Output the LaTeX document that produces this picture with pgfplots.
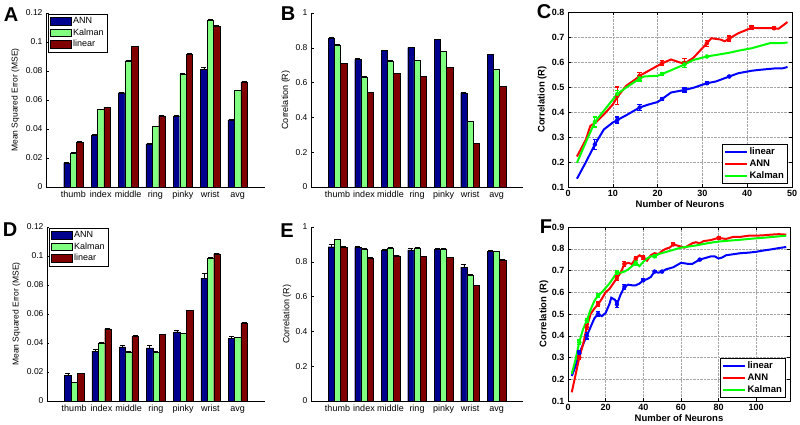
\documentclass[border=0pt]{standalone}
\usepackage{fontspec}
\setmainfont{Liberation Sans}
\usepackage{pgfplots}
\usepackage{pgfplotstable}
\pgfplotsset{compat=1.18}

\definecolor{annc}{rgb}{0,0,0.5625}
\definecolor{kalc}{rgb}{0.5,1,0.5}
\definecolor{linc}{rgb}{0.5,0,0}

% x ann anne kal kale lin line
\pgfplotstableread{
x ann anne kal kale lin line
1 0.0167 0.0006 0.0236 0.0003 0.0310 0.0003
2 0.0355 0.0012 0.0534 0.0003 0.0550 0.0003
3 0.0650 0.0005 0.0871 0.0003 0.0970 0.0003
4 0.0298 0.0005 0.0417 0.0003 0.0490 0.0003
5 0.0488 0.0005 0.0780 0.0003 0.0917 0.0003
6 0.0810 0.0015 0.1153 0.0003 0.1110 0.0003
7 0.0463 0.0004 0.0665 0.0003 0.0725 0.0003
}\dataA
\pgfplotstableread{
x ann anne kal kale lin line
1 0.853 0.008 0.816 0.002 0.709 0.002
2 0.734 0.006 0.633 0.002 0.545 0.002
3 0.784 0.004 0.725 0.002 0.654 0.002
4 0.801 0.004 0.728 0.002 0.637 0.002
5 0.847 0.004 0.778 0.002 0.688 0.002
6 0.541 0.006 0.377 0.002 0.252 0.002
7 0.761 0.004 0.677 0.002 0.579 0.002
}\dataB
\pgfplotstableread{
x ann anne kal kale lin line
1 0.0177 0.0012 0.0128 0.0003 0.0190 0.0003
2 0.0344 0.0015 0.0401 0.0003 0.0498 0.0003
3 0.0374 0.0012 0.0340 0.0003 0.0447 0.0003
4 0.0367 0.0018 0.0337 0.0003 0.0459 0.0003
5 0.0477 0.0010 0.0465 0.0003 0.0626 0.0003
6 0.0848 0.0030 0.0986 0.0003 0.1016 0.0003
7 0.0431 0.0015 0.0440 0.0003 0.0539 0.0003
}\dataD
\pgfplotstableread{
x ann anne kal kale lin line
1 0.887 0.012 0.929 0.002 0.885 0.002
2 0.883 0.008 0.874 0.002 0.822 0.002
3 0.867 0.007 0.881 0.002 0.835 0.002
4 0.868 0.010 0.880 0.002 0.832 0.002
5 0.873 0.004 0.875 0.002 0.825 0.002
6 0.770 0.014 0.725 0.002 0.663 0.002
7 0.859 0.005 0.859 0.002 0.811 0.002
}\dataE

\pgfplotsset{
  barax/.style={
    scale only axis, xmin=0, xmax=8, ymin=0,
    axis x line*=bottom, axis y line*=left,
    tick align=inside, major tick length=2.5pt,
    xtick={1,2,3,4,5,6,7},
    xticklabels={thumb,index,middle,ring,pinky,wrist,avg},
    xtick style={draw=none},
    ytick style={black, line width=0.4pt},
    x tick label style={font=\fontsize{9}{10}\selectfont, text height=1.6ex, text depth=0.3ex, inner ysep=1.5pt},
    y tick label style={font=\fontsize{8.5}{9}\selectfont, /pgf/number format/fixed, /pgf/number format/precision=2},
    /pgf/number format/assume math mode=true,
    scaled y ticks=false,
    axis line style={black, line width=0.4pt},
    legend cell align=left,
    legend style={at={(0.01,0.995)}, anchor=north west, draw=black, line width=0.4pt,
      font=\fontsize{9}{10}\selectfont, inner sep=1.5pt, row sep=-0.5pt},
  },
  lineax/.style={
    scale only axis, grid=major,
    grid style={densely dotted, gray!70, line width=0.35pt},
    tick align=inside, major tick length=3pt,
    axis line style={black, line width=0.4pt},
    every tick/.style={black, line width=0.4pt},
    tick label style={font=\bfseries\fontsize{9}{10}\selectfont},
    /pgf/number format/assume math mode=true,
    yticklabel style={/pgf/number format/fixed, /pgf/number format/precision=1, /pgf/number format/fixed zerofill},
    label style={font=\bfseries\fontsize{9.5}{10}\selectfont},
    legend cell align=left,
    legend style={at={(0.98,0.02)}, anchor=south east, draw=black, line width=0.4pt,
      font=\bfseries\fontsize{9.5}{10}\selectfont, inner sep=1.5pt, row sep=-0.5pt},
    legend image code/.code={\draw[#1] (0pt,0pt) -- (22pt,0pt);},
  },
}

\newcommand{\threebars}[1]{%
  \addplot[ybar, bar width=0.235, bar shift=0pt, fill=annc, draw=black, line width=0.3pt, forget plot,
    error bars/.cd, y dir=plus, y explicit, error bar style={black, line width=0.5pt},
    error mark options={rotate=90, black, mark size=2.5pt, line width=0.5pt}]
    table[x expr=\thisrow{x}-0.235, y=ann, y error=anne] {#1};
  \addplot[ybar, bar width=0.235, bar shift=0pt, fill=kalc, draw=black, line width=0.3pt, forget plot,
    error bars/.cd, y dir=plus, y explicit, error bar style={black, line width=0.5pt},
    error mark options={rotate=90, black, mark size=2.5pt, line width=0.5pt}]
    table[x expr=\thisrow{x}, y=kal, y error=kale] {#1};
  \addplot[ybar, bar width=0.235, bar shift=0pt, fill=linc, draw=black, line width=0.3pt, forget plot,
    error bars/.cd, y dir=plus, y explicit, error bar style={black, line width=0.5pt},
    error mark options={rotate=90, black, mark size=2.5pt, line width=0.5pt}]
    table[x expr=\thisrow{x}+0.235, y=lin, y error=line] {#1};
}
\newcommand{\barlegend}{%
  \addlegendimage{legend image code/.code={\draw[fill=annc, draw=black, line width=0.3pt] (0pt,-3.5pt) rectangle (21pt,4pt);}}
  \addlegendentry{ANN}
  \addlegendimage{legend image code/.code={\draw[fill=kalc, draw=black, line width=0.3pt] (0pt,-3.5pt) rectangle (21pt,4pt);}}
  \addlegendentry{Kalman}
  \addlegendimage{legend image code/.code={\draw[fill=linc, draw=black, line width=0.3pt] (0pt,-3.5pt) rectangle (21pt,4pt);}}
  \addlegendentry{linear}
}

\begin{document}
\begin{tikzpicture}
\useasboundingbox (0pt,0pt) rectangle (800pt,425pt);

% ---------------- A ----------------
\begin{axis}[barax, at={(46pt,238pt)}, anchor=south west, width=219pt, height=174pt,
  ymax=0.12, ytick={0,0.02,0.04,0.06,0.08,0.1,0.12},
  ylabel={Mean Squared Error (MSE)},
  ylabel style={at={(axis description cs:-0.14,0.5)}, anchor=center, font=\fontsize{8.5}{9}\selectfont}]
\barlegend
\threebars{\dataA}
\end{axis}

% ---------------- B ----------------
\begin{axis}[barax, at={(311pt,238pt)}, anchor=south west, width=212pt, height=174pt,
  ymax=1, ytick={0,0.2,0.4,0.6,0.8,1},
  y tick label style={/pgf/number format/precision=1},
  ylabel={Correlation (R)},
  ylabel style={at={(axis description cs:-0.119,0.5)}, anchor=center, font=\fontsize{9}{9}\selectfont}]
\threebars{\dataB}
\end{axis}

% ---------------- C ----------------
\begin{axis}[lineax, at={(568pt,238pt)}, anchor=south west, width=224pt, height=175pt,
  xmin=0, xmax=50, ymin=0.1, ymax=0.8,
  xtick={0,10,20,30,40,50}, ytick={0.1,0.2,0.3,0.4,0.5,0.6,0.7,0.8},
  xlabel={Number of Neurons}, ylabel={Correlation (R)},
  xlabel style={at={(axis description cs:0.5,-0.095)}, anchor=center},
  ylabel style={at={(axis description cs:-0.115,0.5)}, anchor=center}]
\addplot[blue, line width=2pt] coordinates {
(2,0.133)(4,0.20)(6,0.27)(8,0.330)(10,0.358)(11,0.368)(13,0.387)(16,0.418)(18,0.43)(20,0.44)
(21,0.452)(23,0.478)(26,0.488)(28,0.497)(31,0.515)(33,0.522)(36,0.542)(38,0.555)(41,0.565)
(43,0.569)(46,0.574)(48,0.575)(49,0.580)};
\addlegendentry{linear}
\addplot[red, line width=2pt] coordinates {
(2,0.222)(4,0.29)(5,0.345)(6,0.355)(8,0.39)(10,0.43)(11,0.46)(13,0.505)(15,0.53)(16,0.545)
(18,0.565)(21,0.595)(23,0.61)(25,0.598)(26,0.594)(28,0.617)(31,0.675)(32,0.695)(34,0.69)
(35,0.683)(36,0.694)(38,0.715)(41,0.737)(43,0.735)(46,0.735)(47,0.733)(49,0.760)};
\addlegendentry{ANN}
\addplot[green, line width=2pt] coordinates {
(2,0.197)(4,0.28)(6,0.36)(8,0.405)(11,0.472)(13,0.498)(16,0.534)(17,0.542)(20,0.545)(21,0.552)
(23,0.567)(26,0.590)(28,0.608)(31,0.622)(33,0.628)(36,0.637)(38,0.645)(41,0.655)(43,0.665)
(45,0.675)(48,0.676)(49,0.678)};
\addlegendentry{Kalman}
\addplot[blue, only marks, mark=none, forget plot, error bars/.cd, y dir=both, y explicit,
  error bar style={blue, line width=1.2pt}, error mark options={rotate=90, blue, mark size=2.2pt, line width=1.2pt}]
  coordinates {(6,0.27)+-(0,0.02) (11,0.368)+-(0,0.012) (16,0.418)+-(0,0.012) (21,0.452)+-(0,0.007)
  (26,0.488)+-(0,0.008) (31,0.515)+-(0,0.005) (36,0.542)+-(0,0.005)};
\addplot[red, only marks, mark=none, forget plot, error bars/.cd, y dir=both, y explicit,
  error bar style={red, line width=1.2pt}, error mark options={rotate=90, red, mark size=2.2pt, line width=1.2pt}]
  coordinates {(11,0.465)+-(0,0.035) (16,0.545)+-(0,0.012) (21,0.595)+-(0,0.01) (26,0.597)+-(0,0.018)
  (31,0.675)+-(0,0.012) (36,0.694)+-(0,0.01) (41,0.737)+-(0,0.007) (46,0.735)+-(0,0.005)};
\addplot[green, only marks, mark=none, forget plot, error bars/.cd, y dir=both, y explicit,
  error bar style={green, line width=1.2pt}, error mark options={rotate=90, green, mark size=2.2pt, line width=1.2pt}]
  coordinates {(6,0.36)+-(0,0.02) (11,0.472)+-(0,0.015) (16,0.534)+-(0,0.01) (21,0.552)+-(0,0.006)
  (26,0.590)+-(0,0.012) (31,0.622)+-(0,0.005)};
\end{axis}

% ---------------- D ----------------
\begin{axis}[barax, at={(47pt,24pt)}, anchor=south west, width=218pt, height=174pt,
  ymax=0.12, ytick={0,0.02,0.04,0.06,0.08,0.1,0.12},
  ylabel={Mean Squared Error (MSE)},
  ylabel style={at={(axis description cs:-0.14,0.5)}, anchor=center, font=\fontsize{8.5}{9}\selectfont}]
\barlegend
\threebars{\dataD}
\end{axis}

% ---------------- E ----------------
\begin{axis}[barax, at={(311pt,24pt)}, anchor=south west, width=212pt, height=174pt,
  ymax=1, ytick={0,0.2,0.4,0.6,0.8,1},
  y tick label style={/pgf/number format/precision=1},
  ylabel={Correlation (R)},
  ylabel style={at={(axis description cs:-0.113,0.5)}, anchor=center, font=\fontsize{9}{9}\selectfont}]
\threebars{\dataE}
\end{axis}

% ---------------- F ----------------
\begin{axis}[lineax, at={(568pt,24pt)}, anchor=south west, width=222pt, height=174pt,
  xmin=0, xmax=118, ymin=0.1, ymax=0.9,
  xtick={0,20,40,60,80,100}, ytick={0.1,0.2,0.3,0.4,0.5,0.6,0.7,0.8,0.9},
  xlabel={Number of Neurons}, ylabel={Correlation (R)},
  xlabel style={at={(axis description cs:0.5,-0.1)}, anchor=center},
  ylabel style={at={(axis description cs:-0.108,0.5)}, anchor=center}]
\addplot[blue, line width=2pt] coordinates {
(2,0.215)(4,0.26)(6,0.32)(8,0.36)(10,0.40)(12,0.44)(14,0.48)(16,0.50)(18,0.49)(20,0.505)
(22,0.545)(23,0.575)(25,0.565)(26,0.545)(28,0.59)(30,0.625)(32,0.635)(34,0.632)(36,0.632)
(38,0.64)(40,0.655)(42,0.66)(44,0.67)(46,0.695)(48,0.69)(50,0.695)(52,0.705)(54,0.71)
(56,0.715)(58,0.725)(60,0.735)(62,0.733)(64,0.73)(66,0.73)(68,0.74)(70,0.75)(72,0.755)
(74,0.76)(76,0.765)(78,0.765)(80,0.755)(82,0.76)(84,0.77)(88,0.775)(92,0.78)(96,0.782)
(100,0.786)(104,0.792)(108,0.797)(112,0.803)(116,0.808)};
\addlegendentry{linear}
\addplot[red, line width=2pt] coordinates {
(2,0.14)(4,0.22)(6,0.30)(8,0.36)(10,0.44)(12,0.50)(14,0.525)(16,0.545)(18,0.57)(20,0.60)
(22,0.615)(24,0.64)(26,0.665)(28,0.69)(30,0.73)(32,0.735)(34,0.73)(36,0.755)(38,0.77)
(40,0.76)(42,0.745)(44,0.77)(46,0.78)(48,0.775)(50,0.79)(52,0.80)(54,0.805)(56,0.82)
(58,0.815)(60,0.81)(62,0.805)(64,0.815)(66,0.825)(68,0.83)(70,0.825)(72,0.835)(76,0.84)
(80,0.85)(84,0.845)(88,0.855)(92,0.855)(96,0.86)(100,0.86)(104,0.862)(108,0.865)(112,0.867)(116,0.865)};
\addlegendentry{ANN}
\addplot[green, line width=2pt] coordinates {
(2,0.225)(4,0.29)(6,0.37)(8,0.43)(10,0.47)(12,0.52)(14,0.56)(16,0.585)(18,0.60)(20,0.62)
(22,0.64)(24,0.665)(26,0.69)(28,0.69)(30,0.695)(32,0.705)(34,0.72)(36,0.735)(38,0.72)
(40,0.74)(42,0.755)(44,0.765)(46,0.765)(48,0.775)(52,0.785)(56,0.795)(60,0.805)(64,0.81)
(68,0.815)(72,0.822)(76,0.828)(80,0.833)(84,0.836)(90,0.84)(96,0.845)(100,0.848)(106,0.852)
(112,0.857)(116,0.86)};
\addlegendentry{Kalman}
\addplot[blue, only marks, mark=none, forget plot, error bars/.cd, y dir=both, y explicit,
  error bar style={blue, line width=1.2pt}, error mark options={rotate=90, blue, mark size=2pt, line width=1.2pt}]
  coordinates {(6,0.32)+-(0,0.01) (10,0.40)+-(0,0.015) (16,0.50)+-(0,0.01) (26,0.545)+-(0,0.015)
  (30,0.625)+-(0,0.01) (40,0.655)+-(0,0.006) (46,0.695)+-(0,0.006) (50,0.695)+-(0,0.005) (70,0.75)+-(0,0.005)};
\addplot[red, only marks, mark=none, forget plot, error bars/.cd, y dir=both, y explicit,
  error bar style={red, line width=1.2pt}, error mark options={rotate=90, red, mark size=2pt, line width=1.2pt}]
  coordinates {(6,0.30)+-(0,0.01) (10,0.44)+-(0,0.01) (16,0.545)+-(0,0.01) (26,0.665)+-(0,0.01)
  (30,0.73)+-(0,0.01) (36,0.755)+-(0,0.01) (40,0.76)+-(0,0.01) (56,0.82)+-(0,0.006) (80,0.85)+-(0,0.005)};
\addplot[green, only marks, mark=none, forget plot, error bars/.cd, y dir=both, y explicit,
  error bar style={green, line width=1.2pt}, error mark options={rotate=90, green, mark size=2pt, line width=1.2pt}]
  coordinates {(6,0.37)+-(0,0.01) (10,0.47)+-(0,0.01) (16,0.585)+-(0,0.01) (26,0.69)+-(0,0.01)
  (36,0.735)+-(0,0.01) (46,0.765)+-(0,0.006)};
\end{axis}

% panel letters
\node[font=\bfseries\fontsize{20}{20}\selectfont] at (11pt,410pt) {A};
\node[font=\bfseries\fontsize{20}{20}\selectfont] at (288pt,411pt) {B};
\node[font=\bfseries\fontsize{20}{20}\selectfont] at (544pt,413pt) {C};
\node[font=\bfseries\fontsize{20}{20}\selectfont] at (10pt,195pt) {D};
\node[font=\bfseries\fontsize{20}{20}\selectfont] at (287pt,194pt) {E};
\node[font=\bfseries\fontsize{20}{20}\selectfont] at (546pt,198pt) {F};
\end{tikzpicture}
\end{document}
